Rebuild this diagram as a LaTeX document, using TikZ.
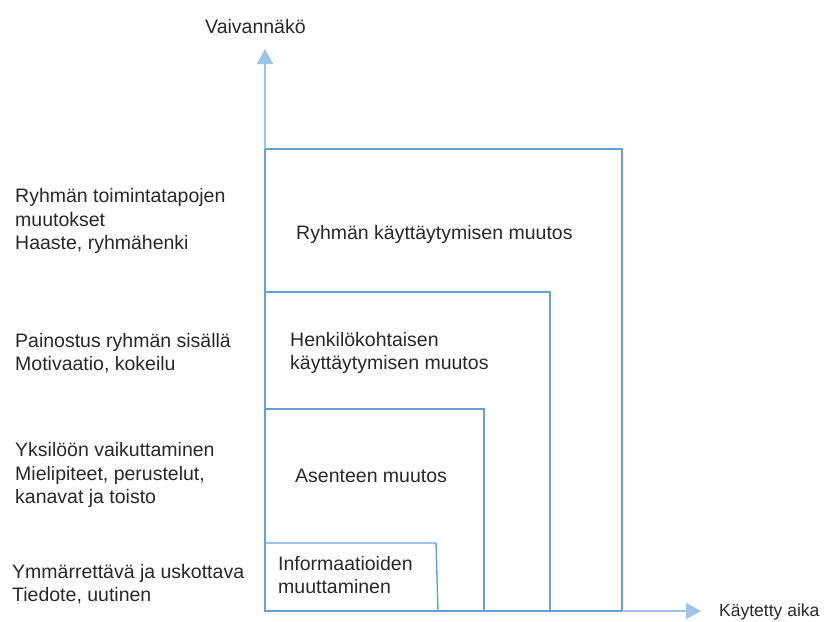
\documentclass[tikz,border=0pt]{standalone}
\usepackage{fontspec}
\setmainfont{Liberation Sans}
\usetikzlibrary{arrows.meta}
\definecolor{boxblue}{RGB}{100,160,216}
\definecolor{axisblue}{RGB}{157,195,230}
\definecolor{txt}{RGB}{40,40,40}
\begin{document}
\begin{tikzpicture}[x=1pt,y=-1pt,
  lab/.style={inner sep=0pt,anchor=west,align=left,text=txt,font=\fontsize{19.5}{23.5}\selectfont},
  boxline/.style={draw=boxblue,line width=1.4pt},
  axisline/.style={draw=axisblue,line width=1.8pt,-{Triangle[length=15pt,width=16pt]}}]
\useasboundingbox (0,0) rectangle (826,621);
% axes ends
\coordinate (O) at (265,611);
\coordinate (ytop) at (265,49);
\coordinate (xend) at (701,611);
% boxes
\coordinate (b1) at (436,543);
\coordinate (b2) at (484,409);
\coordinate (b3) at (550,292);
\coordinate (b4) at (622,149);
\draw[boxline] (O) |- (b4) -- (b4 |- O) -- cycle;
\draw[boxline] (O) |- (b3) -- (b3 |- O);
\draw[boxline] (O) |- (b2) -- (b2 |- O);
\draw[boxline] (O) |- (b1) -- ([xshift=2pt]b1 |- O);
% axes
\draw[axisline] (O |- b4) -- (ytop);
\draw[axisline] (b4 |- O) -- (xend);
% axis labels
\node[lab] (ylab) at (205,27) {Vaivannäkö};
\node[lab,font=\fontsize{17.5}{21}\selectfont] (xlab) at (719,612) {Käytetty aika};
% box texts
\node[lab] (t4) at (296,234) {Ryhmän käyttäytymisen muutos};
\node[lab] (t3) at (290,353) {Henkilökohtaisen\\käyttäytymisen muutos};
\node[lab] (t2) at (295,476) {Asenteen muutos};
\node[lab] (t1) at (278,575) {Informaatioiden\\muuttaminen};
% left texts
\node[lab] (l4) at (15,221) {Ryhmän toimintatapojen\\muutokset\\Haaste, ryhmähenki};
\node[lab] (l3) at (15,353) {Painostus ryhmän sisällä\\Motivaatio, kokeilu};
\node[lab] (l2) at (15,475) {Yksilöön vaikuttaminen\\Mielipiteet, perustelut,\\kanavat ja toisto};
\node[lab] (l1) at (12,584) {Ymmärrettävä ja uskottava\\Tiedote, uutinen};
\end{tikzpicture}
\end{document}
